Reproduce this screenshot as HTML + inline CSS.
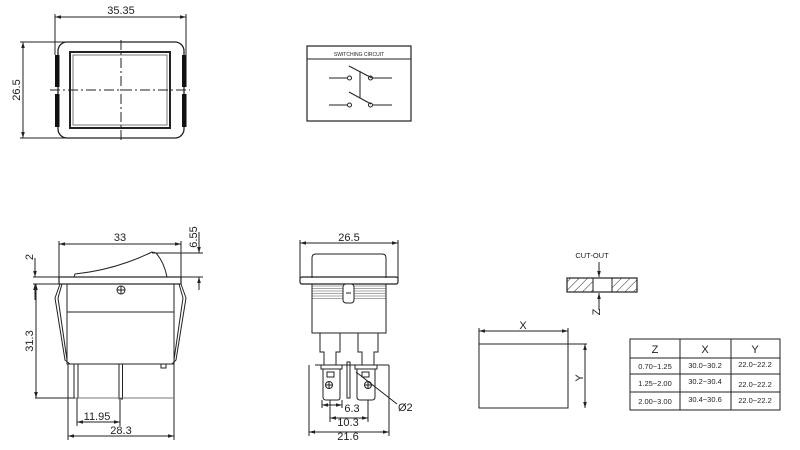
<!DOCTYPE html>
<html><head><meta charset="utf-8"><style>
html,body{margin:0;padding:0;background:#fff;}
svg{display:block;}
text{font-family:"Liberation Sans",sans-serif;fill:#222;}
</style></head><body>
<svg width="800" height="450" viewBox="0 0 800 450" xmlns="http://www.w3.org/2000/svg">
<defs>
<marker id="a" viewBox="0 0 10 10" refX="10" refY="5" markerWidth="6" markerHeight="6" orient="auto-start-reverse"><path d="M0,2 L10,5 L0,8 z" fill="#222"/></marker>
<pattern id="h" width="6" height="6" patternUnits="userSpaceOnUse" patternTransform="rotate(45)"><line x1="0" y1="0" x2="0" y2="6" stroke="#222" stroke-width="1"/></pattern>
</defs>
<g fill="none" stroke="#222" stroke-width="1">
<line x1="55" y1="14" x2="55" y2="55"/><line x1="186" y1="14" x2="186" y2="55"/>
<line x1="55" y1="17" x2="186" y2="17" marker-start="url(#a)" marker-end="url(#a)"/>
<line x1="20" y1="42" x2="70" y2="42"/><line x1="20" y1="138" x2="70" y2="138"/>
<line x1="23" y1="42" x2="23" y2="138" marker-start="url(#a)" marker-end="url(#a)"/>
<rect x="58" y="42" width="126" height="96" rx="9" stroke-width="1.3"/>
<rect x="70" y="52" width="100" height="76" stroke-width="2"/>
<rect x="73" y="55" width="94" height="70" stroke-width="0.6"/>
<line x1="50" y1="90" x2="190" y2="90" stroke-dasharray="10,3,2,3"/>
<line x1="121" y1="40" x2="121" y2="140" stroke-dasharray="10,3,2,3"/>
<rect x="307" y="46" width="104" height="75" stroke-width="1.2"/>
<line x1="307" y1="59" x2="411" y2="59"/>
<line x1="329" y1="78" x2="347" y2="78"/><circle cx="349.5" cy="78" r="2"/>
<circle cx="370.5" cy="78" r="2"/><line x1="373" y1="78" x2="392" y2="78"/>
<line x1="329" y1="105" x2="347" y2="105"/><circle cx="349.5" cy="105" r="2"/>
<circle cx="370.5" cy="105" r="2"/><line x1="373" y1="105" x2="392" y2="105"/>
<line x1="349" y1="66" x2="372" y2="78"/><line x1="349" y1="92" x2="371" y2="104"/>
<line x1="360" y1="71" x2="360" y2="98"/>
<line x1="59" y1="241" x2="59" y2="277"/><line x1="181" y1="241" x2="181" y2="277"/>
<line x1="59" y1="244" x2="181" y2="244" marker-start="url(#a)" marker-end="url(#a)"/>
<line x1="152" y1="253" x2="203" y2="253"/><line x1="181" y1="277" x2="203" y2="277"/>
<line x1="199" y1="232" x2="199" y2="253" marker-end="url(#a)"/>
<line x1="199" y1="290" x2="199" y2="277" marker-end="url(#a)"/>
<line x1="33" y1="277" x2="60" y2="277"/><line x1="33" y1="284" x2="68" y2="284"/>
<line x1="35" y1="258" x2="35" y2="277" marker-end="url(#a)"/>
<line x1="35" y1="300" x2="35" y2="284" marker-end="url(#a)"/>
<rect x="59" y="277" width="122" height="7" stroke-width="1.2"/>
<path d="M74,277 L75,274 Q115,270 152,252 L156,253 Q164,262 167,277"/>
<path d="M60,284 L55,298 L65,360 L70,364 M62,284 L58,298 L67,360"/>
<path d="M181,284 L186,298 L176,360 L172,364 M179,284 L183,298 L174,360"/>
<rect x="67" y="284" width="107" height="80"/>
<line x1="67" y1="312" x2="174" y2="312"/>
<circle cx="121" cy="290" r="4"/><line x1="117" y1="290" x2="125" y2="290"/><line x1="121" y1="286" x2="121" y2="294"/>
<rect x="74" y="364" width="4" height="34"/><rect x="119" y="364" width="3.5" height="35"/>
<rect x="161" y="364" width="5" height="4"/>
<line x1="75" y1="398" x2="173" y2="398" stroke="#777"/>
<line x1="36" y1="284" x2="36" y2="398" marker-start="url(#a)" marker-end="url(#a)"/>
<line x1="35" y1="398" x2="75" y2="398"/>
<line x1="77" y1="398" x2="77" y2="426"/><line x1="120" y1="400" x2="120" y2="426"/>
<line x1="68" y1="364" x2="68" y2="440"/><line x1="174" y1="364" x2="174" y2="440"/>
<line x1="77" y1="422" x2="120" y2="422" marker-start="url(#a)" marker-end="url(#a)"/>
<line x1="68" y1="436" x2="174" y2="436" marker-start="url(#a)" marker-end="url(#a)"/>
<line x1="300" y1="240" x2="300" y2="280"/><line x1="398" y1="240" x2="398" y2="280"/>
<line x1="300" y1="243" x2="398" y2="243" marker-start="url(#a)" marker-end="url(#a)"/>
<path d="M312,278 L312,258 Q312,254 316,254 L382,254 Q386,254 386,258 L386,278"/>
<rect x="300" y="277" width="98" height="7" rx="2" stroke-width="1.2"/>
<rect x="312" y="284" width="74" height="49"/>
<g stroke-width="0.4"><line x1="312" y1="286" x2="386" y2="286"/><line x1="312" y1="288.5" x2="386" y2="288.5"/><line x1="312" y1="291" x2="386" y2="291"/><line x1="312" y1="293.5" x2="386" y2="293.5"/><line x1="312" y1="296" x2="386" y2="296"/><line x1="312" y1="298.5" x2="386" y2="298.5"/></g>
<rect x="343" y="284" width="11" height="19" rx="3" fill="#fff"/>
<line x1="346" y1="293" x2="351" y2="293"/>
<path d="M320,333 L320,352 L324,352 L324,365 M340,333 L340,352 L336,352 L336,365"/>
<path d="M358,333 L358,352 L362,352 L362,365 M378,333 L378,352 L374,352 L374,365"/>
<line x1="315" y1="365" x2="389" y2="365"/>
<rect x="321" y="365" width="21" height="4"/><rect x="355" y="365" width="22" height="4"/>
<path d="M323,369 L323,397 Q323,400 326,400 L338,400 Q340,400 340,397 L340,369"/>
<path d="M357,369 L357,397 Q357,400 360,400 L372,400 Q375,400 375,397 L375,369"/>
<rect x="327" y="372" width="7" height="5"/><rect x="362" y="372" width="7" height="5"/>
<circle cx="329" cy="385" r="3.5"/><line x1="325.5" y1="385" x2="332.5" y2="385"/><line x1="329" y1="381.5" x2="329" y2="388.5"/>
<circle cx="368" cy="385" r="3.5"/><line x1="364.5" y1="385" x2="371.5" y2="385"/><line x1="368" y1="381.5" x2="368" y2="388.5"/>
<rect x="347" y="362" width="3" height="36"/>
<line x1="356" y1="372" x2="397" y2="404"/>
<line x1="309" y1="365" x2="309" y2="436"/><line x1="389" y1="365" x2="389" y2="436"/>
<line x1="322" y1="400" x2="322" y2="408"/><line x1="342" y1="400" x2="342" y2="408"/>
<line x1="330" y1="400" x2="330" y2="422"/><line x1="368" y1="400" x2="368" y2="422"/>
<line x1="322" y1="405" x2="342" y2="405" marker-start="url(#a)" marker-end="url(#a)"/>
<line x1="330" y1="418" x2="368" y2="418" marker-start="url(#a)" marker-end="url(#a)"/>
<line x1="309" y1="432" x2="389" y2="432" marker-start="url(#a)" marker-end="url(#a)"/>
<rect x="567" y="278" width="26" height="14" fill="url(#h)"/><rect x="612" y="278" width="25" height="14" fill="url(#h)"/>
<rect x="567" y="278" width="70" height="14" stroke-width="1.2"/>
<line x1="593" y1="278" x2="593" y2="292"/><line x1="612" y1="278" x2="612" y2="292"/>
<line x1="599" y1="262" x2="599" y2="277" marker-end="url(#a)"/>
<line x1="599" y1="310" x2="599" y2="293" marker-end="url(#a)"/>
<line x1="479" y1="328" x2="479" y2="344"/><line x1="568" y1="328" x2="568" y2="344"/>
<line x1="479" y1="331" x2="568" y2="331" marker-start="url(#a)" marker-end="url(#a)"/>
<rect x="479" y="344" width="89" height="64"/>
<line x1="568" y1="344" x2="587" y2="344"/>
<line x1="585" y1="344" x2="585" y2="408" marker-start="url(#a)" marker-end="url(#a)"/>
<rect x="630" y="339" width="150" height="71"/>
<line x1="680" y1="339" x2="680" y2="410"/><line x1="731" y1="339" x2="731" y2="410"/>
<line x1="630" y1="358" x2="780" y2="358"/><line x1="630" y1="374" x2="780" y2="374"/><line x1="630" y1="392" x2="780" y2="392"/>
</g>
<g font-size="11">
<text x="121" y="14" text-anchor="middle">35.35</text>
<text transform="translate(20,90) rotate(-90)" text-anchor="middle">26.5</text>
<text x="120" y="241" text-anchor="middle">33</text>
<text transform="translate(197,237) rotate(-90)" text-anchor="middle">6.55</text>
<text transform="translate(33,257) rotate(-90)" text-anchor="middle">2</text>
<text transform="translate(33,341) rotate(-90)" text-anchor="middle">31.3</text>
<text x="97" y="420" text-anchor="middle">11.95</text>
<text x="121" y="434" text-anchor="middle">28.3</text>
<text x="349" y="241" text-anchor="middle">26.5</text>
<text x="352" y="412" text-anchor="middle">6.3</text>
<text x="348" y="426" text-anchor="middle">10.3</text>
<text x="348" y="440" text-anchor="middle">21.6</text>
<text x="398" y="411">Ø2</text>
<text x="523" y="329" text-anchor="middle">X</text>
<text transform="translate(583,378) rotate(-90)" text-anchor="middle">Y</text>
<text transform="translate(600,312) rotate(-90)" text-anchor="middle">Z</text>
<text x="655" y="353" text-anchor="middle">Z</text>
<text x="705" y="353" text-anchor="middle">X</text>
<text x="755" y="353" text-anchor="middle">Y</text>
</g>
<g font-size="7.5">
<text x="592" y="258" text-anchor="middle">CUT-OUT</text>
<text x="655" y="369" text-anchor="middle">0.70~1.25</text>
<text x="705" y="368" text-anchor="middle">30.0~30.2</text>
<text x="755" y="367" text-anchor="middle">22.0~22.2</text>
<text x="655" y="386" text-anchor="middle">1.25~2.00</text>
<text x="705" y="384" text-anchor="middle">30.2~30.4</text>
<text x="755" y="387" text-anchor="middle">22.0~22.2</text>
<text x="655" y="404" text-anchor="middle">2.00~3.00</text>
<text x="705" y="402" text-anchor="middle">30.4~30.6</text>
<text x="755" y="403" text-anchor="middle">22.0~22.2</text>
</g>
<text x="359" y="56" font-size="5" text-anchor="middle">SWITCHING CIRCUIT</text>
<g fill="#111">
<rect x="55" y="55" width="4.5" height="32"/><rect x="55" y="94" width="4.5" height="33"/>
<rect x="182" y="55" width="4.5" height="32"/><rect x="182" y="94" width="4.5" height="33"/>
</g>
</svg>
</body></html>
